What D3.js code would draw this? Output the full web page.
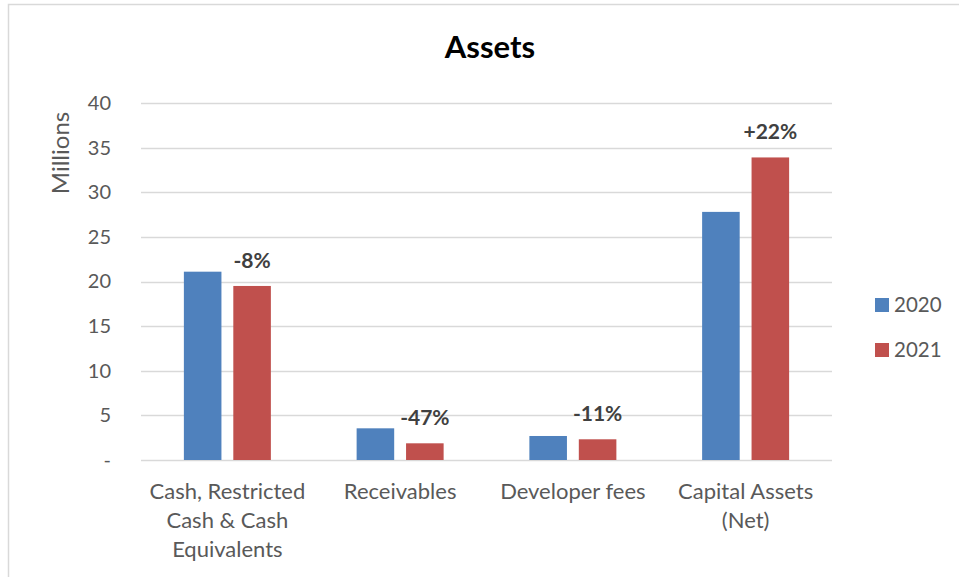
<!DOCTYPE html>
<html>
<head>
<meta charset="utf-8">
<script src="https://cdn.jsdelivr.net/npm/d3@7"></script>
<style>
  body { margin: 0; background: #fff; }
  text { font-family: Lato, "Open Sans", sans-serif; }
</style>
</head>
<body>
<div id="chart"></div>
<script>
// data
var categories = [["Cash, Restricted", "Cash & Cash", "Equivalents"], ["Receivables"], ["Developer fees"], ["Capital Assets", "(Net)"]];
var seriesNames = ["2020", "2021"];
var values2020 = [21.1, 3.55, 2.69, 27.8];
var values2021 = [19.5, 1.87, 2.32, 33.9];
var changeLabels = ["-8%", "-47%", "-11%", "+22%"];
var yTicks = [0, 5, 10, 15, 20, 25, 30, 35, 40];
var colors = ["#4F81BD", "#C0504D"];

var svgWidth = 959, svgHeight = 577;
var margin = { top: 103, right: 127, bottom: 117, left: 141 };
var width = svgWidth - margin.left - margin.right,
    height = svgHeight - margin.top - margin.bottom;

var svg = d3.select("#chart").append("svg")
  .attr("width", svgWidth)
  .attr("height", svgHeight);

// chart area border
svg.append("rect")
  .attr("x", 8.5).attr("y", 4.5)
  .attr("width", 960).attr("height", 600)
  .attr("fill", "none")
  .attr("stroke", "#D9D9D9")
  .attr("stroke-width", 1.5);

svg.append("text")
  .attr("x", 490).attr("y", 58)
  .attr("text-anchor", "middle")
  .style("font-size", "31px").style("font-weight", "bold")
  .attr("fill", "#000")
  .text("Assets");

var g = svg.append("g").attr("transform", "translate(" + margin.left + "," + margin.top + ")");

var idx = d3.range(categories.length);
var x0 = d3.scaleBand().domain(idx).range([0, width]);
var x1 = d3.scaleBand().domain([0, 1]).range([0, 87]).paddingInner(0.24);
var y = d3.scaleLinear().domain([0, 40]).range([height, 0]);

// gridlines
g.selectAll(".grid").data(yTicks).enter().append("line")
  .attr("x1", 0).attr("x2", width)
  .attr("y1", function (d) { return Math.round(y(d)) + 0.5; })
  .attr("y2", function (d) { return Math.round(y(d)) + 0.5; })
  .attr("stroke", "#D9D9D9").attr("stroke-width", 1.5);

// y axis labels
var yAxis = d3.axisLeft(y).tickValues(yTicks).tickSize(0).tickPadding(30)
  .tickFormat(function (d) { return d === 0 ? "-" : d; });
var ya = g.append("g").call(yAxis);
ya.select(".domain").remove();
ya.selectAll("text").style("font-size", "20px").attr("fill", "#595959").style("font-family", "Lato, sans-serif");

svg.append("text")
  .attr("transform", "translate(69,153) rotate(-90)")
  .attr("text-anchor", "middle")
  .style("font-size", "24px").attr("fill", "#595959")
  .text("Millions");

// bars
var series = [values2020, values2021];
series.forEach(function (vals, s) {
  g.selectAll(".bar" + s).data(vals).enter().append("rect")
    .attr("x", function (d, i) { return x0(i) + (x0.bandwidth() - 87) / 2 + x1(s); })
    .attr("width", x1.bandwidth())
    .attr("y", function (d) { return y(d); })
    .attr("height", function (d) { return height - y(d); })
    .attr("fill", colors[s]);
});

// change labels above 2021 bars
g.selectAll(".chg").data(changeLabels).enter().append("text")
  .attr("x", function (d, i) { return x0(i) + (x0.bandwidth() - 87) / 2 + x1(1) + x1.bandwidth() / 2; })
  .attr("y", function (d, i) { return y(values2021[i]) - 18; })
  .attr("text-anchor", "middle")
  .style("font-size", "21px").style("font-weight", "bold")
  .attr("fill", "#404040")
  .text(function (d) { return d; });

// category labels
var cl = g.selectAll(".cat").data(categories).enter().append("text")
  .attr("text-anchor", "middle")
  .style("font-size", "22px").attr("fill", "#595959")
  .attr("transform", function (d, i) { return "translate(" + (x0(i) + x0.bandwidth() / 2) + "," + (height + 39) + ")"; });
cl.selectAll("tspan").data(function (d) { return d; }).enter().append("tspan")
  .attr("x", 0)
  .attr("y", function (d, i) { return i * 29; })
  .text(function (d) { return d; });

// legend
var lg = svg.append("g").attr("transform", "translate(875,298)");
seriesNames.forEach(function (n, i) {
  lg.append("rect").attr("x", 0).attr("y", i * 45).attr("width", 14).attr("height", 14).attr("fill", colors[i]);
  lg.append("text").attr("x", 19).attr("y", i * 45 + 14)
    .style("font-size", "20.5px").attr("fill", "#595959").text(n);
});
</script>
</body>
</html>
